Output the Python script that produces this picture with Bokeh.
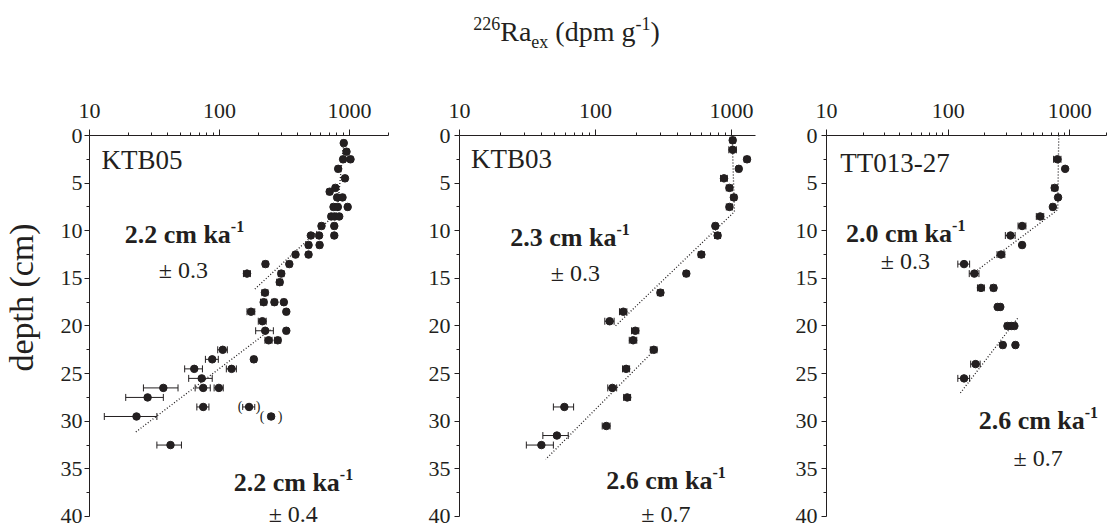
import math
from bokeh.plotting import figure
from bokeh.models import (Range1d, FixedTicker, Label, Whisker, ColumnDataSource,
                          TeeHead, PrintfTickFormatter)
from bokeh.layouts import row, column
from bokeh.embed import file_html
from bokeh.resources import INLINE
from bokeh.core.properties import value

INK = "#231f20"
FONT = "'Liberation Serif', 'Times New Roman', serif"

# ---------------- data ----------------
# KTB05
ktb05_depth = [0.8, 1.7, 2.5, 2.5, 3.5, 4.5, 5.5, 5.9, 6.5, 6.5, 7.5, 7.5, 7.5, 8.5, 8.5, 8.5,
               9.5, 9.5, 10.5, 10.5, 10.5, 11.5, 11.5, 12.5, 12.5, 13.5, 13.5, 14.5, 14.5, 15.4,
               16.5, 17.5, 17.5, 17.5, 18.5, 18.5, 19.5, 20.5, 20.5, 21.5, 21.5, 22.5, 23.5, 23.5,
               24.5, 24.5, 25.5, 26.5, 26.5, 26.5, 27.5, 28.5, 29.5, 32.5]
ktb05_ra = [905, 950, 895, 1020, 820, 925, 780, 705, 805, 885, 755, 815, 970, 725, 770, 835,
            610, 765, 505, 585, 765, 485, 590, 485, 385, 345, 226, 163, 299, 291,
            224, 219, 265, 313, 175, 327, 214, 225, 327, 239, 281, 106, 88, 184,
            64, 124, 73, 37, 75, 99, 28, 75, 23, 42]
ktb05_err = [35, 40, 35, 40, 30, 35, 30, 30, 30, 35, 30, 30, 35, 30, 30, 30,
             25, 30, 20, 25, 30, 20, 25, 20, 15, 15, 10, 10, 15, 15,
             12, 12, 12, 12, 12, 12, 15, 35, 12, 15, 15, 9, 10, 8,
             10, 11, 15, 11, 10, 8, 9, 8, 10, 9]
# bracketed (excluded) KTB05 points
ktb05_excl_depth = [28.5, 29.5]
ktb05_excl_ra = [169, 250]
ktb05_excl_err = [18, 12]
ktb05_fit1_ra = [905, 805, 183]
ktb05_fit1_depth = [0.6, 8.1, 16.25]
ktb05_fit2_ra = [247, 22.6]
ktb05_fit2_depth = [20.4, 31.15]

# KTB03
ktb03_depth = [0.5, 1.5, 2.5, 3.5, 4.5, 5.5, 6.5, 7.5, 9.5, 10.5, 12.5, 14.5, 16.5, 18.5, 19.5,
               20.5, 21.5, 22.5, 24.5, 26.5, 27.5, 28.5, 30.5, 31.5, 32.5]
ktb03_ra = [1020, 1020, 1300, 1130, 880, 965, 1040, 965, 760, 790, 600, 465, 300, 160, 127,
            196, 189, 268, 168, 133, 171, 59, 120, 52, 40]
ktb03_err = [45, 65, 60, 40, 50, 50, 50, 50, 30, 40, 30, 20, 15, 10, 10,
             12, 12, 15, 10, 10, 10, 10, 8, 11, 9]
ktb03_fit1_ra = [1010, 1050, 140]
ktb03_fit1_depth = [0.0, 8.0, 20.0]
ktb03_fit2_ra = [268, 43]
ktb03_fit2_depth = [22.6, 34.0]

# TT013-27
tt013_depth = [2.5, 3.5, 5.5, 6.5, 7.5, 8.5, 9.5, 10.5, 11.5, 12.5, 13.5, 14.5, 16.0, 16.0,
               18.0, 18.0, 20.0, 20.0, 20.0, 22.0, 22.0, 24.0, 25.5]
tt013_ra = [790, 915, 750, 800, 725, 570, 405, 325, 405, 272, 135, 164, 186, 236,
            255, 268, 307, 330, 350, 281, 357, 168, 135]
tt013_err = [55, 20, 40, 30, 30, 40, 30, 30, 15, 20, 15, 15, 12, 12,
             10, 10, 15, 15, 15, 12, 12, 15, 15]
tt013_fit1_ra = [810, 795, 163]
tt013_fit1_depth = [0.0, 7.8, 14.4]
tt013_fit2_ra = [372, 123]
tt013_fit2_depth = [19.2, 27.2]

# axes
x_major_ticks = [10, 100, 1000]
x_minor_ticks = [20, 30, 40, 50, 60, 70, 80, 90, 200, 300, 400, 500, 600, 700, 800, 900, 2000]
y_major_ticks = [0, 5, 10, 15, 20, 25, 30, 35, 40]
y_minor_ticks = [2.5, 7.5, 12.5, 17.5, 22.5, 27.5, 32.5, 37.5]

# ---------------- text helpers ----------------
REG = {' ': 0.25, '(': 0.333, ')': 0.333, '-': 0.333, '.': 0.25, '\u00b1': 0.564,
       'R': 0.667, 'a': 0.444, 'e': 0.444, 'x': 0.5, 'd': 0.5, 'p': 0.5, 'm': 0.778,
       'g': 0.5, 'c': 0.444, 'k': 0.5, 'K': 0.722, 'T': 0.611, 'B': 0.667}
BOLD = {' ': 0.25, '.': 0.25, '-': 0.333, 'c': 0.444, 'm': 0.833, 'k': 0.556, 'a': 0.5}
BASE_FIX = 0.32   # label baseline correction (fraction of font size)


def tw(s, size, bold):
    table = BOLD if bold else REG
    return sum(table.get(ch, 0.5) for ch in s) * size


def rich(fig, x, y, pieces):
    widths = [tw(t, s, b) for (t, s, b, dy) in pieces]
    cur = -sum(widths) / 2.0
    for (t, s, b, dy), w in zip(pieces, widths):
        lead = len(t) - len(t.lstrip(" "))
        off = cur + tw(" " * lead, s, b)
        fig.add_layout(Label(x=x, y=y, x_offset=off, y_offset=dy + BASE_FIX * s,
                             text=t.lstrip(" "),
                             text_font=FONT, text_font_size=f"{s}px",
                             text_font_style="bold" if b else "normal",
                             text_color=INK, text_align="left",
                             text_baseline="alphabetic"))
        cur += w


def rate(fig, x, y, txt):
    rich(fig, x, y, [(txt, 26, True, 0), ("-1", 16, True, 11)])


def plain(fig, x, y, txt, size):
    rich(fig, x, y, [(txt, size, False, 0)])


YMAX = 41.26


def panel(width, left, right, xmax, depth, ra, err, fits, ylab_std):
    p = figure(width=width, height=450, x_axis_type="log", x_axis_location="above",
               x_range=Range1d(10, xmax), y_range=Range1d(YMAX, 0),
               output_backend="svg", toolbar_location=None,
               min_border_left=left, min_border_right=right,
               min_border_top=57, min_border_bottom=0)
    p.outline_line_color = None
    p.grid.visible = False

    xa = p.xaxis[0]
    xa.ticker = FixedTicker(ticks=x_major_ticks, minor_ticks=x_minor_ticks)
    xa.formatter = PrintfTickFormatter(format="%d")
    xa.major_tick_out = 6
    xa.major_tick_in = 0
    xa.minor_tick_out = 3
    xa.minor_tick_in = 0
    xa.major_label_standoff = 12
    ya = p.yaxis[0]
    ya.bounds = (0, 40)
    ya.ticker = FixedTicker(ticks=y_major_ticks, minor_ticks=y_minor_ticks)
    ya.formatter = PrintfTickFormatter(format="%d")
    ya.major_tick_out = 5
    ya.major_tick_in = 0
    ya.minor_tick_out = 3
    ya.minor_tick_in = 0
    ya.major_label_standoff = ylab_std
    for ax in (xa, ya):
        ax.axis_line_color = INK
        ax.major_tick_line_color = INK
        ax.minor_tick_line_color = INK
        ax.major_label_text_font = FONT
        ax.major_label_text_font_size = "22px"
        ax.major_label_text_color = INK

    for fx, fy in fits:
        p.line(x=fx, y=fy, line_color=INK, line_width=1.3, line_dash="1 2")

    src = ColumnDataSource(dict(ra=ra, depth=depth,
                                lo=[v - e for v, e in zip(ra, err)],
                                hi=[v + e for v, e in zip(ra, err)]))
    p.add_layout(Whisker(source=src, base="depth", lower="lo", upper="hi",
                         dimension="width", line_color=INK, line_width=1,
                         upper_head=TeeHead(size=7, line_color=INK, line_width=1),
                         lower_head=TeeHead(size=7, line_color=INK, line_width=1)))
    p.scatter(x="ra", y="depth", source=src, size=7.5, color=INK)
    return p


p1 = panel(369, 39, 31, 2000, ktb05_depth, ktb05_ra, ktb05_err,
           [(ktb05_fit1_ra, ktb05_fit1_depth), (ktb05_fit2_ra, ktb05_fit2_depth)], 2)
p2 = panel(367, 40, 31, 1500, ktb03_depth, ktb03_ra, ktb03_err,
           [(ktb03_fit1_ra, ktb03_fit1_depth), (ktb03_fit2_ra, ktb03_fit2_depth)], 4)
p3 = panel(322, 40, 2, 2000, tt013_depth, tt013_ra, tt013_err,
           [(tt013_fit1_ra, tt013_fit1_depth), (tt013_fit2_ra, tt013_fit2_depth)], 4)

exsrc = ColumnDataSource(dict(ra=ktb05_excl_ra, depth=ktb05_excl_depth,
                              lo=[v - e for v, e in zip(ktb05_excl_ra, ktb05_excl_err)],
                              hi=[v + e for v, e in zip(ktb05_excl_ra, ktb05_excl_err)],
                              lp=["(", "("], rp=[")", ")"]))
p1.add_layout(Whisker(source=exsrc, base="depth", lower="lo", upper="hi",
                      dimension="width", line_color=INK,
                      upper_head=TeeHead(size=6, line_color=INK),
                      lower_head=TeeHead(size=6, line_color=INK)))
p1.scatter(x="ra", y="depth", source=exsrc, size=7.5, color=INK)
p1.text(x="ra", y="depth", text="lp", source=exsrc, x_offset=-9, text_align="center",
        text_baseline="middle", text_font=value(FONT), text_font_size="14px", text_color=INK)
p1.text(x="ra", y="depth", text="rp", source=exsrc, x_offset=9, text_align="center",
        text_baseline="middle", text_font=value(FONT), text_font_size="14px", text_color=INK)

# panel annotations (anchor = text baseline centre)
plain(p1, 25.4, 3.46, "KTB05", 27)
rate(p1, 53.8, 11.23, "2.2 cm ka")
plain(p1, 52.9, 14.9, "\u00b1 0.3", 24)
rate(p1, 371, 37.27, "2.2 cm ka")
plain(p1, 371, 40.55, "\u00b1 0.4", 24)

plain(p2, 24.1, 3.39, "KTB03", 27)
rate(p2, 64.9, 11.55, "2.3 cm ka")
plain(p2, 71.3, 15.2, "\u00b1 0.3", 24)
rate(p2, 330, 37.1, "2.6 cm ka")
plain(p2, 330, 40.55, "\u00b1 0.7", 24)

plain(p3, 36.6, 3.75, "TT013-27", 27)
rate(p3, 44.7, 11.13, "2.0 cm ka")
plain(p3, 44.7, 13.96, "\u00b1 0.3", 24)
rate(p3, 551, 30.76, "2.6 cm ka")
plain(p3, 550, 34.65, "\u00b1 0.7", 24)

# y axis title strip (left)
pl = figure(width=50, height=450, x_range=Range1d(0, 50), y_range=Range1d(0, 393),
            output_backend="svg", toolbar_location=None,
            min_border_left=0, min_border_right=0, min_border_top=57, min_border_bottom=0)
pl.axis.visible = False
pl.grid.visible = False
pl.outline_line_color = None
pl.add_layout(Label(x=21, y=231, text="depth (cm)", angle=math.pi / 2,
                    text_font=FONT, text_font_size="34px", text_color=INK,
                    text_align="center", text_baseline="middle"))

# title strip
pt = figure(width=1108, height=78, x_range=Range1d(0, 1108), y_range=Range1d(0, 78),
            output_backend="svg", toolbar_location=None, min_border=0)
pt.axis.visible = False
pt.grid.visible = False
pt.outline_line_color = None
rich(pt, 566, 38, [("226", 18, False, 11), ("Ra", 28, False, 0), ("ex", 18, False, -7),
                   (" (dpm g", 28, False, 0), ("-1", 18, False, 11), (")", 28, False, 0)])

layout = column(pt, row(pl, p1, p2, p3))
open("out.html", "w").write(file_html(layout, INLINE))
